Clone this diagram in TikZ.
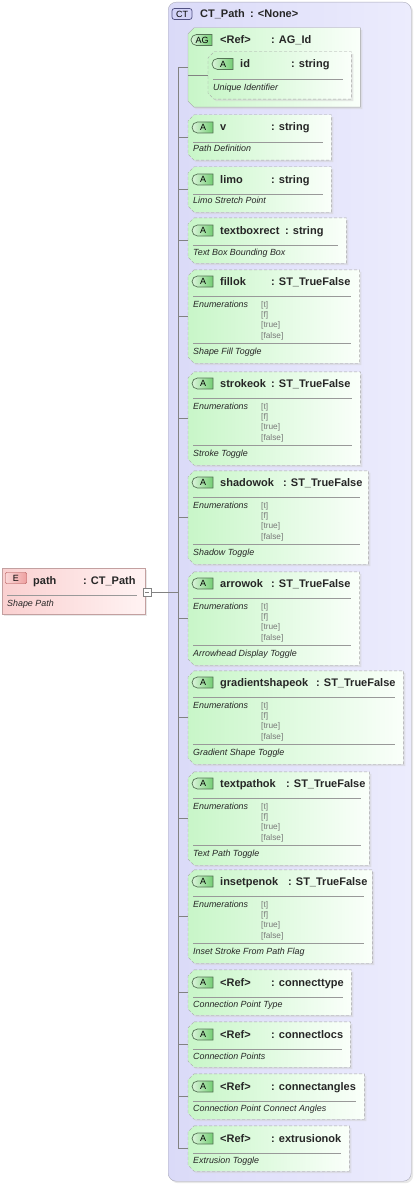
\documentclass[tikz,border=0pt]{standalone}
\usepackage{fontspec}
\setmainfont{Liberation Sans}
\usetikzlibrary{shapes.misc,shadows}

\definecolor{ctleft}{RGB}{218,218,248}
\definecolor{ctright}{RGB}{236,236,253}
\definecolor{ctline}{RGB}{170,170,185}
\definecolor{attleft}{RGB}{200,246,200}
\definecolor{attright}{RGB}{250,255,250}
\definecolor{attline}{RGB}{165,165,165}
\definecolor{badgeline}{RGB}{85,115,85}
\definecolor{badgeleft}{RGB}{220,245,220}
\definecolor{badgeright}{RGB}{115,205,115}
\definecolor{elleft}{RGB}{250,208,208}
\definecolor{elright}{RGB}{255,243,243}
\definecolor{elline}{RGB}{195,160,160}
\definecolor{ebadgeleft}{RGB}{250,215,215}
\definecolor{ebadgeright}{RGB}{238,160,160}
\definecolor{ebadgeline}{RGB}{170,70,70}
\definecolor{ctbadge}{RGB}{210,210,248}
\definecolor{ctbadgeline}{RGB}{80,80,130}
\definecolor{wire}{RGB}{130,130,130}
\definecolor{enumgray}{RGB}{120,120,120}

% contorno con esquinas cortadas a la izquierda
\newcommand\cutbox[2]{%
  \path[#2] ([xshift=6pt]#1.north west) -- (#1.north east) -- (#1.south east)
    -- ([xshift=6pt]#1.south west) -- ([yshift=6pt]#1.south west)
    -- ([yshift=-6pt]#1.north west) -- cycle;}

\tikzset{
  softshadow/.style={drop shadow={shadow xshift=2pt,shadow yshift=-2pt,fill=black!18}},
  ctbox/.style={rectangle, rounded corners=8pt, draw=ctline, left color=ctleft,
    right color=ctright, softshadow, inner sep=0pt, anchor=north west},
  slot/.style={rectangle, inner sep=0pt, anchor=west},
  attline/.style={draw=attline, dash pattern=on 3pt off 2pt, left color=attleft,
    right color=attright, softshadow},
  grpline/.style={draw=attline, left color=attleft, right color=attright, softshadow},
  elbox/.style={rectangle, draw=elline, left color=elleft, right color=elright,
    softshadow, inner sep=0pt, anchor=north west},
  abadge/.style={rounded rectangle, rounded rectangle right arc=none, draw=badgeline,
    line width=0.7pt, left color=badgeleft, right color=badgeright, minimum width=21pt,
    minimum height=11pt, inner sep=0pt, font=\fontsize{9}{9}\selectfont},
  ebadgebox/.style={rectangle, rounded corners=1pt, draw=ebadgeline, left color=ebadgeleft,
    right color=ebadgeright, minimum width=21pt, minimum height=11pt, inner sep=0pt,
    font=\fontsize{9}{9}\selectfont},
  ctbadgebox/.style={rectangle, rounded corners=2.5pt, draw=ctbadgeline, fill=ctbadge,
    line width=0.7pt, minimum width=20pt, minimum height=11pt, inner sep=0pt,
    font=\fontsize{9}{9}\selectfont},
  nametxt/.style={anchor=base west, inner sep=0pt, text=black!85,
    font=\fontsize{11}{12}\selectfont\bfseries},
  desctxt/.style={anchor=base west, inner sep=0pt, text=black!85,
    font=\fontsize{8.9}{10}\selectfont\itshape},
  enumtxt/.style={anchor=base west, inner sep=0pt, text=enumgray,
    font=\fontsize{8.3}{10}\selectfont},
  sepline/.style={draw=black!40, line width=0.6pt},
  wire/.style={draw=wire, line width=0.6pt}
}

\begin{document}
\begin{tikzpicture}[x=1pt,y=-1pt]
  \useasboundingbox (0,0) rectangle (416,1185);

  % Tipo complejo
  \node[ctbox, minimum width=243pt, minimum height=1179pt] (ct) at (168,2) {};
  \node[ctbadgebox] (ctbadge) at (182,14) {CT};
  \node[nametxt] (ctname) at (200,18) {CT\_Path};
  \node[nametxt] (cttype) at (250,18) {: <None>};
  \coordinate (spine) at (178,0);

  % Elemento
  \node[elbox, minimum width=143pt, minimum height=46pt] (path) at (2,568) {};
  \node[ebadgebox] (pathbadge) at (16,578) {E};
  \node[nametxt] at (33,584) {path};
  \node[nametxt] at (83,584) {: CT\_Path};
  \draw[sepline] (7,595) -- (137,595);
  \node[desctxt] at (7,606.5) {Shape Path};
  \node[rectangle, draw=wire, fill=white, minimum size=8pt, inner sep=0pt] (fold) at (147,592) {};
  \draw[wire] ([xshift=2pt]fold.west) -- ([xshift=-2pt]fold.east);

  % Grupo de atributos
  \node[slot, minimum width=172pt, minimum height=79pt] (ag) at (188,67.5) {};
  \cutbox{ag}{grpline}
  \node[abadge] (agbadge) at (202,40) {AG};
  \node[nametxt] at (220,44) {<Ref>};
  \node[nametxt] at (271,44) {: AG\_Id};
  \node[slot, minimum width=143pt, minimum height=47pt] (id) at (208,75.5) {};
  \cutbox{id}{attline}
  \node[abadge] (idbadge) at (223,64) {A};
  \node[nametxt] at (240,68) {id};
  \node[nametxt] at (291,68) {: string};
  \draw[sepline] (213,79) -- (343,79);
  \node[desctxt] at (213,90.3) {Unique Identifier};
  \draw[wire] (id.west) -- (id.west -| ag.west);

  % Atributos simples
  \foreach \tp/\rt/\nm/\tx/\ty/\ds/\id in {
      115/331/v/271/string/Path Definition/v,
      167/331/limo/271/string/Limo Stretch Point/limo,
      218/346/textboxrect/285/string/Text Box Bounding Box/textboxrect,
      970/351/<Ref>/271/connecttype/Connection Point Type/connecttype,
      1022/350/<Ref>/271/connectlocs/Connection Points/connectlocs,
      1074/364/<Ref>/271/connectangles/Connection Point Connect Angles/connectangles,
      1126/349/<Ref>/271/extrusionok/Extrusion Toggle/extrusionok}{
    \node[slot, minimum width={(\rt-188)*1pt}, minimum height=45pt] (\id) at (188,{\tp+22.5}) {};
    \cutbox{\id}{attline}
    \node[abadge] at (203,{\tp+12.5}) {A};
    \node[nametxt] at (220,{\tp+16}) {\nm};
    \node[nametxt] at (\tx,{\tp+16}) {: \ty};
    \draw[sepline] (193,{\tp+27}) -- ({\rt-8},{\tp+27});
    \node[desctxt] at (193,{\tp+37}) {\ds};
    \draw[wire] (\id.west) -- (\id.west -| spine);
  }

  % Atributos con enumeraciones
  \foreach \tp/\rt/\nm/\tx/\ds in {
      270/359/fillok/271/Shape Fill Toggle,
      372/360/strokeok/271/Stroke Toggle,
      471/368/shadowok/283/Shadow Toggle,
      572/359/arrowok/271/Arrowhead Display Toggle,
      671/403/gradientshapeok/316/Gradient Shape Toggle,
      772/369/textpathok/286/Text Path Toggle,
      870/372/insetpenok/288/Inset Stroke From Path Flag}{
    \node[slot, minimum width={(\rt-188)*1pt}, minimum height=93pt] (\nm) at (188,{\tp+46.5}) {};
    \cutbox{\nm}{attline}
    \node[abadge] at (203,{\tp+11.5}) {A};
    \node[nametxt] at (220,{\tp+15}) {\nm};
    \node[nametxt] at (\tx,{\tp+15}) {: ST\_TrueFalse};
    \draw[sepline] (193,{\tp+26}) -- ({\rt-8},{\tp+26});
    \node[desctxt] at (193,{\tp+37.5}) {Enumerations};
    \foreach \ev [count=\k from 0] in {[t],[f],[true],[false]}
      \node[enumtxt] at (261,{\tp+37+10.4*\k}) {\ev};
    \draw[sepline] (193,{\tp+73}) -- ({\rt-8},{\tp+73});
    \node[desctxt] at (193,{\tp+84.5}) {\ds};
    \draw[wire] (\nm.west) -- (\nm.west -| spine);
  }

  % Conectores
  \draw[wire] (ag.west) -- (ag.west -| spine) -- (extrusionok.west -| spine);
  \draw[wire] (fold.east) -- (fold.east -| spine);

\end{tikzpicture}
\end{document}
